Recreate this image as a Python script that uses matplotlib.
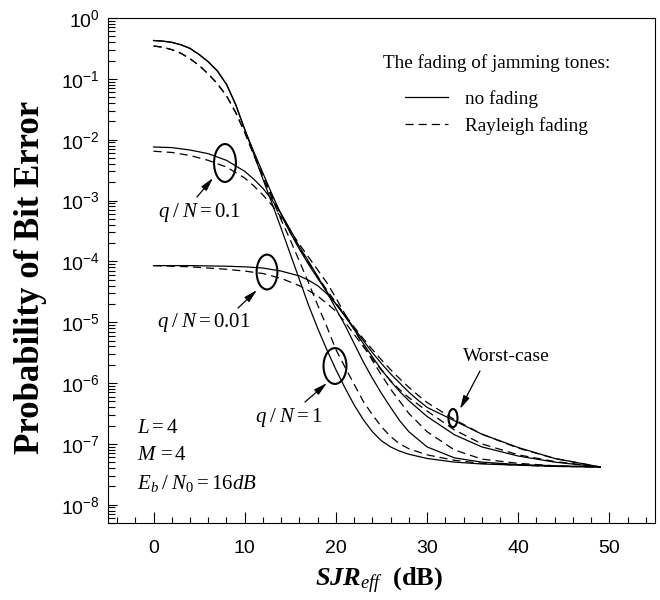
import matplotlib
matplotlib.use("Agg")
import matplotlib.pyplot as plt
from matplotlib.patches import Ellipse
import numpy as np

plt.rcParams['font.family'] = 'Liberation Sans'
plt.rcParams['mathtext.fontset'] = 'custom'
plt.rcParams['mathtext.rm'] = 'Liberation Serif'
plt.rcParams['mathtext.it'] = 'Liberation Serif:italic'
plt.rcParams['mathtext.bf'] = 'Liberation Serif:bold:italic'
plt.rcParams['mathtext.sf'] = 'Liberation Serif:bold'

# log10(BER), SJR_eff in dB
# q/N = 1
x_q1 = [0, 1, 2, 3, 4, 5, 6, 7, 8, 9, 10, 11, 12, 13, 14, 15, 16, 17, 18, 19, 20, 21, 22, 23, 24, 25, 26, 27, 28, 30, 33, 36, 40, 44, 49]
q1_solid = [-0.37, -0.38, -0.40, -0.44, -0.50, -0.60, -0.72, -0.87, -1.09, -1.42, -1.83, -2.24, -2.65, -3.05, -3.46, -3.88, -4.30, -4.72, -5.10, -5.45, -5.78, -6.08, -6.36, -6.60, -6.80, -6.95, -7.05, -7.12, -7.17, -7.24, -7.30, -7.33, -7.35, -7.37, -7.38]
q1_dash = [-0.46, -0.48, -0.52, -0.58, -0.67, -0.78, -0.92, -1.08, -1.28, -1.55, -1.88, -2.25, -2.62, -2.97, -3.32, -3.65, -4.00, -4.35, -4.72, -5.07, -5.45, -5.74, -6.02, -6.30, -6.52, -6.72, -6.88, -7.00, -7.08, -7.18, -7.27, -7.32, -7.35, -7.37, -7.38]

# q/N = 0.1
x_q01 = [0, 2, 4, 6, 8, 10, 11, 12, 13, 14, 15, 16, 17, 18, 19, 20, 21, 22, 23, 24, 25, 26, 27, 28, 30, 33, 36, 40, 44, 49]
q01_solid = [-2.12, -2.13, -2.17, -2.23, -2.34, -2.52, -2.65, -2.80, -2.99, -3.22, -3.48, -3.76, -4.00, -4.25, -4.50, -4.78, -5.05, -5.35, -5.65, -5.92, -6.17, -6.40, -6.62, -6.80, -7.05, -7.23, -7.30, -7.34, -7.36, -7.38]
q01_dash = [-2.19, -2.21, -2.26, -2.34, -2.45, -2.63, -2.76, -2.91, -3.08, -3.28, -3.50, -3.72, -3.93, -4.14, -4.35, -4.60, -4.87, -5.12, -5.38, -5.63, -5.87, -6.10, -6.30, -6.50, -6.80, -7.10, -7.25, -7.32, -7.36, -7.38]

# q/N = 0.01
x_q001 = [0, 4, 8, 10, 12, 14, 16, 17, 18, 19, 20, 21, 22, 23, 24, 25, 26, 27, 28, 30, 33, 36, 40, 44, 49]
q001_solid = [-4.07, -4.07, -4.08, -4.09, -4.11, -4.16, -4.24, -4.31, -4.40, -4.53, -4.70, -4.90, -5.12, -5.35, -5.57, -5.78, -5.97, -6.14, -6.29, -6.55, -6.85, -7.05, -7.20, -7.30, -7.38]
q001_dash = [-4.07, -4.09, -4.13, -4.16, -4.20, -4.28, -4.40, -4.48, -4.57, -4.69, -4.82, -5.00, -5.20, -5.40, -5.60, -5.79, -5.96, -6.11, -6.24, -6.46, -6.77, -7.00, -7.18, -7.29, -7.38]

# worst case
x_wc = [0, 1, 2, 3, 4, 5, 6, 7, 8, 9, 10, 11, 12, 13, 14, 15, 16, 17, 18, 19, 20, 21, 22, 23, 24, 25, 26, 27, 28, 29, 30, 33, 36, 40, 44, 49]
wc_solid = [-0.37, -0.38, -0.40, -0.44, -0.50, -0.60, -0.72, -0.87, -1.09, -1.42, -1.83, -2.20, -2.55, -2.90, -3.23, -3.53, -3.80, -4.05, -4.28, -4.50, -4.70, -4.90, -5.10, -5.30, -5.50, -5.68, -5.85, -6.00, -6.15, -6.28, -6.40, -6.62, -6.84, -7.06, -7.24, -7.38]
wc_dash = [-0.46, -0.48, -0.52, -0.58, -0.67, -0.78, -0.92, -1.08, -1.28, -1.55, -1.88, -2.25, -2.60, -2.93, -3.24, -3.52, -3.78, -4.02, -4.25, -4.47, -4.68, -4.88, -5.08, -5.27, -5.45, -5.62, -5.78, -5.93, -6.07, -6.20, -6.32, -6.60, -6.84, -7.07, -7.24, -7.38]

fig = plt.figure(figsize=(6.6, 6.0), dpi=100)
ax = fig.add_axes([0.1636, 0.1283, 0.8288, 0.8417])

dash = (0, (6.5, 4.0))
curves = [(x_q1, q1_solid, q1_dash), (x_q01, q01_solid, q01_dash),
          (x_q001, q001_solid, q001_dash), (x_wc, wc_solid, wc_dash)]
for i, (xs, ys, yd) in enumerate(curves):
    ax.plot(xs, 10.0 ** np.array(ys), color='black', lw=0.9,
            label='no fading' if i == 0 else None)
    ax.plot(xs, 10.0 ** np.array(yd), color='black', lw=0.9, linestyle=dash,
            label='Rayleigh fading' if i == 0 else None)

ax.set_yscale('log')
ax.set_xlim(-5, 55)
ax.set_ylim(5e-9, 1)
ax.set_xticks([0, 10, 20, 30, 40, 50])
ax.set_xticks(np.arange(-4, 56, 2), minor=True)
ax.set_yticks([10.0 ** -k for k in range(0, 9)])
ax.tick_params(which='both', direction='in', top=False, right=False, width=0.8,
               labelsize=14, colors='black')
ax.tick_params(axis='x', which='major', length=8, pad=12)
ax.tick_params(axis='x', which='minor', length=4.3)
ax.tick_params(axis='y', which='major', length=6.5, pad=6)
ax.tick_params(axis='y', which='minor', length=5)
for s in ax.spines.values():
    s.set_linewidth(0.8)

fig.text(0.046, 0.538, 'Probability of Bit Error', rotation=90, ha='center', va='center',
         family='Liberation Serif', weight='bold', fontsize=25)
fig.text(0.575, 0.032, r'$\mathbf{SJR}_{eff}\ \ \mathsf{(dB)}$', ha='center', va='center',
         fontsize=19)

leg = ax.legend(title='The fading of jamming tones:', loc='upper center',
                bbox_to_anchor=(0.71, 0.963), frameon=False, handlelength=2.25,
                handletextpad=0.9, labelspacing=0.5,
                prop={'family': 'Liberation Serif', 'size': 13.8})
leg.get_title().set_fontfamily('Liberation Serif')
leg.get_title().set_fontsize(13.8)
leg._legend_box.sep = 13

tf = ax.transAxes
ellipses = [(0.2139, 0.7129, 0.040, 0.075), (0.2907, 0.4970, 0.038, 0.069),
            (0.4150, 0.3109, 0.042, 0.071), (0.6307, 0.2079, 0.0165, 0.036)]
for cx, cy, w, h in ellipses:
    ax.add_patch(Ellipse((cx, cy), w, h, transform=tf, fill=False, lw=1.5, ec='black'))

arrow = dict(arrowstyle='-|>,head_length=0.8,head_width=0.2', color='black', lw=0.9,
             shrinkA=0, shrinkB=0)
for tail, tip in [((0.1627, 0.6455), (0.1920, 0.6832)),
                  ((0.2377, 0.4257), (0.2724, 0.4614)),
                  ((0.3601, 0.2396), (0.4004, 0.2772)),
                  ((0.6801, 0.3010), (0.6435, 0.2257))]:
    ax.annotate('', xy=tip, xytext=tail, xycoords=tf, textcoords=tf, arrowprops=arrow)

tkw = dict(transform=tf, fontsize=15, va='center', ha='left')
ax.text(0.0914, 0.6139, r'$q\;/\;N = 0.1$', **tkw)
ax.text(0.0896, 0.398, r'$q\;/\;N = 0.01$', **tkw)
ax.text(0.2687, 0.208, r'$q\;/\;N = 1$', **tkw)
ax.text(0.649, 0.329, 'Worst-case', family='Liberation Serif', fontsize=14,
        transform=tf, va='center', ha='left')
ax.text(0.053, 0.190, r'$L = 4$', **tkw)
ax.text(0.053, 0.1347, r'$M\, = 4$', **tkw)
ax.text(0.053, 0.079, r'$E_b\;/\;N_0 = 16dB$', **tkw)

fig.savefig('out.png', dpi=100)
